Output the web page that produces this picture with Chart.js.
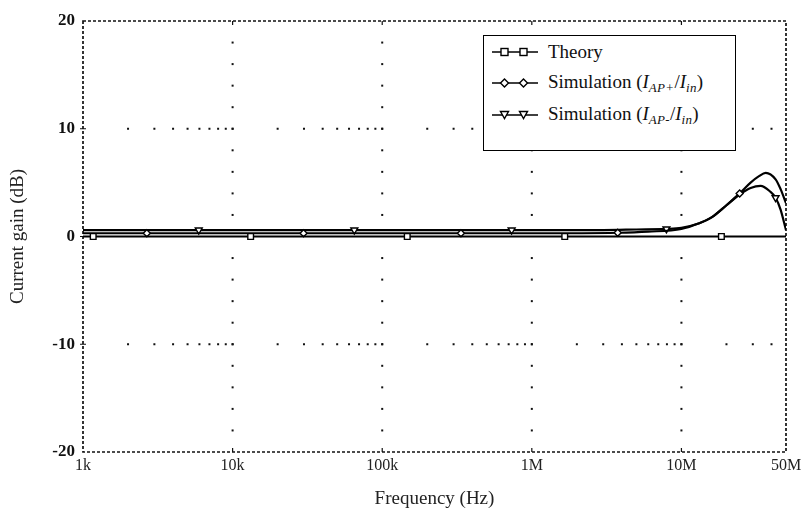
<!DOCTYPE html>
<html>
<head>
<meta charset="utf-8">
<script src="https://cdn.jsdelivr.net/npm/chart.js@4"></script>
<style>
  html, body { margin: 0; padding: 0; background: #fff; }
  #wrap { position: relative; width: 808px; height: 519px; }
  #legend {
    position: absolute; left: 483px; top: 35px; width: 253px; height: 116px;
    border: 1.5px solid #000; background: #fff; box-sizing: border-box;
    font-family: "Liberation Serif", "DejaVu Serif", serif; font-size: 19px; color: #111;
  }
  .row { position: absolute; left: 8px; height: 22px; display: flex; align-items: center; white-space: nowrap; }
  .row svg { margin-right: 10px; }
  sub { font-size: 13px; vertical-align: -4px; font-style: italic; letter-spacing: 0.3px; }
  i { font-style: italic; }
</style>
</head>
<body>
<div id="wrap">
  <canvas id="c" width="808" height="519"></canvas>
  <div id="legend">
    <div class="row" style="top:5px">
      <svg width="46" height="14"><line x1="0" y1="7" x2="46" y2="7" stroke="#000" stroke-width="1.6"/>
        <rect x="9" y="3.5" width="7" height="7" fill="#fff" stroke="#000" stroke-width="1.4"/>
        <rect x="28" y="3.5" width="7" height="7" fill="#fff" stroke="#000" stroke-width="1.4"/></svg>
      <span>Theory</span>
    </div>
    <div class="row" style="top:36px">
      <svg width="46" height="14"><line x1="0" y1="7" x2="46" y2="7" stroke="#000" stroke-width="1.6"/>
        <polygon points="12.5,3 16.5,7 12.5,11 8.5,7" fill="#fff" stroke="#000" stroke-width="1.4"/>
        <polygon points="31.5,3 35.5,7 31.5,11 27.5,7" fill="#fff" stroke="#000" stroke-width="1.4"/></svg>
      <span>Simulation (<i>I</i><sub>AP+</sub>/<i>I</i><sub>in</sub>)</span>
    </div>
    <div class="row" style="top:68px">
      <svg width="46" height="14"><line x1="0" y1="7" x2="46" y2="7" stroke="#000" stroke-width="1.6"/>
        <polygon points="8.5,3.5 16.5,3.5 12.5,10.5" fill="#fff" stroke="#000" stroke-width="1.4"/>
        <polygon points="27.5,3.5 35.5,3.5 31.5,10.5" fill="#fff" stroke="#000" stroke-width="1.4"/></svg>
      <span>Simulation (<i>I</i><sub>AP-</sub>/<i>I</i><sub>in</sub>)</span>
    </div>
  </div>
</div>
<script>
// ---- data (frequency in Hz, gain in dB) ----
const xTickValues = [1e3, 1e4, 1e5, 1e6, 1e7, 5e7];
const xTickLabels = ['1k', '10k', '100k', '1M', '10M', '50M'];
const yTickValues = [-20, -10, 0, 10, 20];

const theoryFreq  = [1e3, 1.17e3, 1.32e4, 1.47e5, 1.66e6, 1.85e7, 5e7];
const theoryGain  = [0.0, 0.0, 0.0, 0.0, 0.0, 0.0, 0.0];
const theoryMark  = [0, 1, 1, 1, 1, 1, 0];

const simPlusFreq = [1e3, 2.67e3, 2.98e4, 3.36e5, 1e6, 3.75e6, 6e6, 1e7, 1.3e7, 1.6e7, 2e7, 2.45e7, 2.9e7, 3.3e7, 3.66e7, 4.26e7, 4.6e7, 5e7];
const simPlusGain = [0.3, 0.3, 0.3, 0.3, 0.3, 0.35, 0.45, 0.7, 1.2, 1.8, 2.9, 4.0, 5.0, 5.6, 5.9, 5.3, 4.4, 3.1];
const simPlusMark = [0, 1, 1, 1, 0, 1, 0, 0, 0, 0, 0, 1, 0, 0, 0, 0, 0, 0];

const simMinusFreq = [1e3, 5.94e3, 6.51e4, 7.33e5, 3e6, 5e6, 7.94e6, 1e7, 1.3e7, 1.6e7, 2e7, 2.45e7, 2.9e7, 3.38e7, 3.9e7, 4.26e7, 4.6e7, 5e7];
const simMinusGain = [0.6, 0.6, 0.6, 0.6, 0.6, 0.65, 0.7, 0.8, 1.2, 1.8, 2.9, 3.9, 4.5, 4.7, 4.2, 3.6, 2.5, 0.6];
const simMinusMark = [0, 1, 1, 1, 0, 0, 1, 0, 0, 0, 0, 0, 0, 0, 0, 1, 0, 0];

function pts(xs, ys) { return xs.map((x, i) => ({ x: x, y: ys[i] })); }

const serif = '"Liberation Serif", "DejaVu Serif", serif';

const gridPlugin = {
  id: 'refGrid',
  beforeDatasetsDraw(chart) {
    const { ctx, chartArea: a, scales: { x, y } } = chart;
    ctx.save();
    ctx.fillStyle = '#111';
    // vertical dotted lines at decades
    [1e4, 1e5, 1e6, 1e7].forEach(f => {
      const px = x.getPixelForValue(f);
      for (let v = -18; v <= 18; v += 2) {
        if (v === 0) continue;
        const py = y.getPixelForValue(v);
        ctx.fillRect(px - 1, py - 1, 2, 2);
      }
    });
    // horizontal dotted rows at +/-10 with minor log positions
    [10, -10].forEach(v => {
      const py = y.getPixelForValue(v);
      for (let d = 1e3; d <= 1e7; d *= 10) {
        for (let k = 1; k <= 9; k++) {
          const f = d * k;
          if (f <= 1e3 || f >= 5e7) continue;
          const px = x.getPixelForValue(f);
          ctx.fillRect(px - 1, py - 1, 2, 2);
        }
      }
    });
    // dashed frame
    ctx.strokeStyle = '#111';
    ctx.lineWidth = 1.7;
    ctx.setLineDash([3, 2]);
    ctx.strokeRect(a.left, a.top, a.right - a.left, a.bottom - a.top);
    ctx.setLineDash([]);
    // tick marks
    ctx.lineWidth = 1.2;
    ctx.beginPath();
    [1e4, 1e5, 1e6, 1e7].forEach(f => {
      const px = x.getPixelForValue(f);
      ctx.moveTo(px, a.bottom); ctx.lineTo(px, a.bottom - 4);
      ctx.moveTo(px, a.top); ctx.lineTo(px, a.top + 4);
    });
    [-10, 0, 10].forEach(v => {
      const py = y.getPixelForValue(v);
      ctx.moveTo(a.left - 3, py); ctx.lineTo(a.left + 3, py);
    });
    ctx.stroke();
    ctx.restore();
  }
};

const common = {
  borderColor: '#000', backgroundColor: '#fff', pointBorderColor: '#000',
  pointBackgroundColor: '#fff', pointBorderWidth: 1.4, borderWidth: 2.2,
  cubicInterpolationMode: 'monotone', fill: false
};

new Chart(document.getElementById('c'), {
  type: 'line',
  data: {
    datasets: [
      Object.assign({}, common, {
        label: 'Theory', data: pts(theoryFreq, theoryGain),
        pointStyle: 'rect', pointRadius: theoryMark.map(m => m ? 4 : 0), borderWidth: 1.8
      }),
      Object.assign({}, common, {
        label: 'Simulation (IAP+/Iin)', data: pts(simPlusFreq, simPlusGain),
        pointStyle: 'rectRot', pointRadius: simPlusMark.map(m => m ? 3.5 : 0)
      }),
      Object.assign({}, common, {
        label: 'Simulation (IAP-/Iin)', data: pts(simMinusFreq, simMinusGain),
        pointStyle: 'triangle', pointRotation: 180, pointRadius: simMinusMark.map(m => m ? 4 : 0)
      })
    ]
  },
  options: {
    responsive: false,
    animation: false,
    layout: { padding: { top: 21, right: 22, left: 0, bottom: 0 } },
    plugins: { legend: { display: false }, tooltip: { enabled: false } },
    elements: { point: { hoverRadius: 0 } },
    scales: {
      x: {
        type: 'logarithmic', min: 1e3, max: 5e7,
        grid: { display: false, drawTicks: false },
        border: { display: false },
        afterBuildTicks: s => { s.ticks = xTickValues.map(v => ({ value: v })); },
        afterFit: s => { s.height = 67; },
        ticks: {
          autoSkip: false, maxRotation: 0, padding: 4, color: '#222',
          font: { family: serif, size: 16 },
          callback: (v) => { const i = xTickValues.indexOf(v); return i >= 0 ? xTickLabels[i] : ''; }
        },
        title: { display: true, text: 'Frequency (Hz)', color: '#222', font: { family: serif, size: 19 }, padding: { top: 0, bottom: 9 } }
      },
      y: {
        type: 'linear', min: -20, max: 20,
        grid: { display: false, drawTicks: false },
        border: { display: false },
        afterBuildTicks: s => { s.ticks = yTickValues.map(v => ({ value: v })); },
        afterFit: s => { s.width = 83; },
        ticks: { padding: 8, color: '#111', font: { family: serif, size: 17, weight: 'bold' } },
        title: { display: true, text: 'Current gain (dB)', color: '#222', font: { family: serif, size: 19 }, padding: { top: 7, bottom: 0 } }
      }
    }
  },
  plugins: [gridPlugin]
});
</script>
</body>
</html>
